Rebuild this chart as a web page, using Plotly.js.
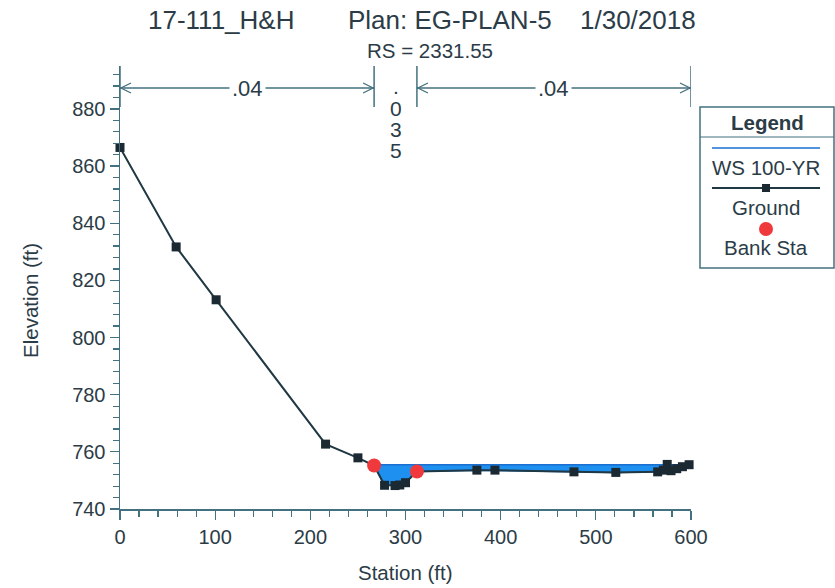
<!DOCTYPE html>
<html>
<head>
<meta charset="utf-8">
<script src="https://cdn.plot.ly/plotly-3.0.1.min.js"></script>
<style>html,body{margin:0;padding:0;background:#fff;}#chart{width:835px;height:588px;}</style>
</head>
<body>
<div id="chart"></div>
<script>
// ---- data ----
const groundStation = [0, 59, 101, 216, 250, 267, 278, 289, 294, 300, 312, 375, 394, 477, 521, 565, 571, 575, 579, 585, 591, 598];
const groundElev    = [866.5, 831.7, 813.2, 762.7, 757.9, 755.2, 748.3, 748.2, 748.4, 749.2, 753.1, 753.6, 753.6, 753.0, 752.8, 753.0, 753.6, 755.6, 753.4, 754.1, 754.8, 755.5];
const bankStation = [267, 312];
const bankElev    = [755.2, 753.1];
const wsElev = 755.5;           // WS 100-YR
const mannStations = [0, 267, 312, 600];
const mannValues = [".04", ".035", ".04"];
const xTicks = [0, 100, 200, 300, 400, 500, 600];
const yTicks = [740, 760, 780, 800, 820, 840, 860, 880];

// ---- water polygon from ground & ws ----
function interpX(x1, y1, x2, y2, y) { return x1 + (y - y1) * (x2 - x1) / (y2 - y1); }
let iL = groundElev.findIndex(v => v < wsElev);
let xL = interpX(groundStation[iL-1], groundElev[iL-1], groundStation[iL], groundElev[iL], wsElev);
let xR = groundStation[groundStation.length-1];
const polyX = [xL], polyY = [wsElev];
polyX.push(xR); polyY.push(wsElev);
for (let i = groundStation.length - 1; i >= iL; i--) {
  polyX.push(groundStation[i]); polyY.push(Math.min(groundElev[i], wsElev));
}
polyX.push(xL); polyY.push(wsElev);

const axisColor = '#44717f';
const textColor = '#2b3c47';
const FONT = 'Liberation Sans, Arial, sans-serif';

const traces = [
  {x: polyX, y: polyY, mode: 'lines', fill: 'toself', fillcolor: '#1e90f0',
   line: {color: '#1a6fd0', width: 1.5}, hoverinfo: 'skip', showlegend: false},
  {x: groundStation, y: groundElev, mode: 'lines+markers', cliponaxis: false,
   line: {color: '#1f3843', width: 2}, marker: {symbol: 'square', size: 9, color: '#1b2a32'}, showlegend: false},
  {x: bankStation, y: bankElev, mode: 'markers', cliponaxis: false,
   marker: {symbol: 'circle', size: 14, color: '#f0393c'}, showlegend: false}
];

const pxX = px => (px - 120) / 571;
const pxY = py => (509 - py) / 443;

const shapes = [];
const annotations = [];
function note(o) {
  annotations.push(Object.assign({showarrow: false, xanchor: 'center', yanchor: 'middle'}, o));
}

// Manning's n markers
mannStations.forEach(s => {
  shapes.push({type: 'line', xref: 'x', yref: 'paper', x0: s, x1: s, y0: pxY(66), y1: pxY(107),
    line: {color: axisColor, width: 1.5}});
});
const arrowY = pxY(88);
[[0, 1, 0], [2, 3, 2]].forEach(([a, b, vi]) => {
  const x0 = mannStations[a], x1 = mannStations[b];
  shapes.push({type: 'line', xref: 'x', yref: 'paper', x0: x0, x1: x1, y0: arrowY, y1: arrowY,
    line: {color: axisColor, width: 1.3}});
  shapes.push({type: 'path', xref: 'x', yref: 'paper', xsizemode: 'pixel', ysizemode: 'pixel',
    xanchor: x0, yanchor: arrowY, path: 'M 11,5 L 1,0 L 11,-5', line: {color: axisColor, width: 1.3}});
  shapes.push({type: 'path', xref: 'x', yref: 'paper', xsizemode: 'pixel', ysizemode: 'pixel',
    xanchor: x1, yanchor: arrowY, path: 'M -11,5 L -1,0 L -11,-5', line: {color: axisColor, width: 1.3}});
  note({xref: 'x', yref: 'paper', x: (x0 + x1) / 2, y: arrowY, text: mannValues[vi],
    bgcolor: '#ffffff', borderpad: 2, font: {family: FONT, size: 22, color: textColor}});
});
mannValues[1].split('').forEach((ch, k) => {
  note({xref: 'x', yref: 'paper', x: (mannStations[1] + mannStations[2]) / 2, y: pxY(87 + 21 * k),
    text: ch, height: 19, borderpad: 0, font: {family: FONT, size: 21, color: textColor}});
});

// titles
note({xref: 'paper', yref: 'paper', x: pxX(146), y: pxY(20), xanchor: 'left', text: '17-111_H&amp;H',
  font: {family: FONT, size: 26, color: textColor}});
note({xref: 'paper', yref: 'paper', x: pxX(346), y: pxY(20), xanchor: 'left', text: 'Plan: EG-PLAN-5',
  font: {family: FONT, size: 26, color: textColor}});
note({xref: 'paper', yref: 'paper', x: pxX(578), y: pxY(20), xanchor: 'left', text: '1/30/2018',
  font: {family: FONT, size: 26, color: textColor}});
note({xref: 'paper', yref: 'paper', x: pxX(430), y: pxY(50), text: 'RS = 2331.55',
  font: {family: FONT, size: 20.5, color: textColor}});
note({xref: 'paper', yref: 'paper', x: pxX(405), y: pxY(572), text: 'Station (ft)',
  font: {family: FONT, size: 20.5, color: textColor}});
note({xref: 'paper', yref: 'paper', x: pxX(30), y: pxY(301), text: 'Elevation (ft)', textangle: -90,
  font: {family: FONT, size: 20.5, color: textColor}});

// legend box
const LF = 20.5;
shapes.push({type: 'rect', xref: 'paper', yref: 'paper', x0: pxX(700), x1: pxX(834), y0: pxY(107), y1: pxY(268),
  line: {color: axisColor, width: 1.5}, fillcolor: 'rgba(255,255,255,0)'});
shapes.push({type: 'line', xref: 'paper', yref: 'paper', x0: pxX(700), x1: pxX(834), y0: pxY(137), y1: pxY(137),
  line: {color: axisColor, width: 1.2}});
shapes.push({type: 'line', xref: 'paper', yref: 'paper', x0: pxX(712), x1: pxX(820), y0: pxY(148), y1: pxY(148),
  line: {color: '#1a6fd0', width: 1.5}});
shapes.push({type: 'line', xref: 'paper', yref: 'paper', x0: pxX(712), x1: pxX(820), y0: pxY(188), y1: pxY(188),
  line: {color: '#1f3843', width: 2}});
shapes.push({type: 'rect', xref: 'paper', yref: 'paper', xsizemode: 'pixel', ysizemode: 'pixel',
  xanchor: pxX(766), yanchor: pxY(188), x0: -4, x1: 4, y0: -4, y1: 4, fillcolor: '#1b2a32', line: {width: 0}});
shapes.push({type: 'circle', xref: 'paper', yref: 'paper', xsizemode: 'pixel', ysizemode: 'pixel',
  xanchor: pxX(766), yanchor: pxY(229), x0: -7, x1: 7, y0: -7, y1: 7, fillcolor: '#f0393c', line: {width: 0}});
note({xref: 'paper', yref: 'paper', x: pxX(767), y: pxY(122), text: '<b>Legend</b>',
  font: {family: FONT, size: LF, color: textColor}});
note({xref: 'paper', yref: 'paper', x: pxX(766), y: pxY(167), text: 'WS 100-YR',
  font: {family: FONT, size: LF, color: textColor}});
note({xref: 'paper', yref: 'paper', x: pxX(766), y: pxY(207), text: 'Ground',
  font: {family: FONT, size: LF, color: textColor}});
note({xref: 'paper', yref: 'paper', x: pxX(766), y: pxY(247), text: 'Bank Sta',
  font: {family: FONT, size: LF, color: textColor}});

const layout = {
  width: 835, height: 588,
  margin: {l: 120, r: 144, t: 66, b: 79, pad: 0},
  paper_bgcolor: '#ffffff', plot_bgcolor: '#ffffff',
  font: {family: FONT, color: textColor},
  showlegend: false,
  xaxis: {range: [0, 600], tickvals: xTicks, ticktext: xTicks.map(String), ticks: 'outside', ticklen: 9,
    tickcolor: axisColor, tickwidth: 1.3, showline: true, linecolor: axisColor, linewidth: 1.5,
    showgrid: false, zeroline: false, tickfont: {family: FONT, size: 20, color: textColor},
    minor: {dtick: 20, tick0: 0, ticks: 'outside', ticklen: 6, tickcolor: axisColor, tickwidth: 1.2, showgrid: false}},
  yaxis: {range: [740, 895], tickvals: yTicks, ticktext: yTicks.map(String), ticks: 'outside', ticklen: 9,
    tickcolor: axisColor, tickwidth: 1.3, showline: true, linecolor: axisColor, linewidth: 1.5,
    showgrid: false, zeroline: false, tickfont: {family: FONT, size: 20, color: textColor},
    minor: {dtick: 4, tick0: 740, ticks: 'outside', ticklen: 6, tickcolor: axisColor, tickwidth: 1.2, showgrid: false}},
  shapes: shapes,
  annotations: annotations
};

Plotly.newPlot('chart', traces, layout, {staticPlot: true, displayModeBar: false});
</script>
</body>
</html>
